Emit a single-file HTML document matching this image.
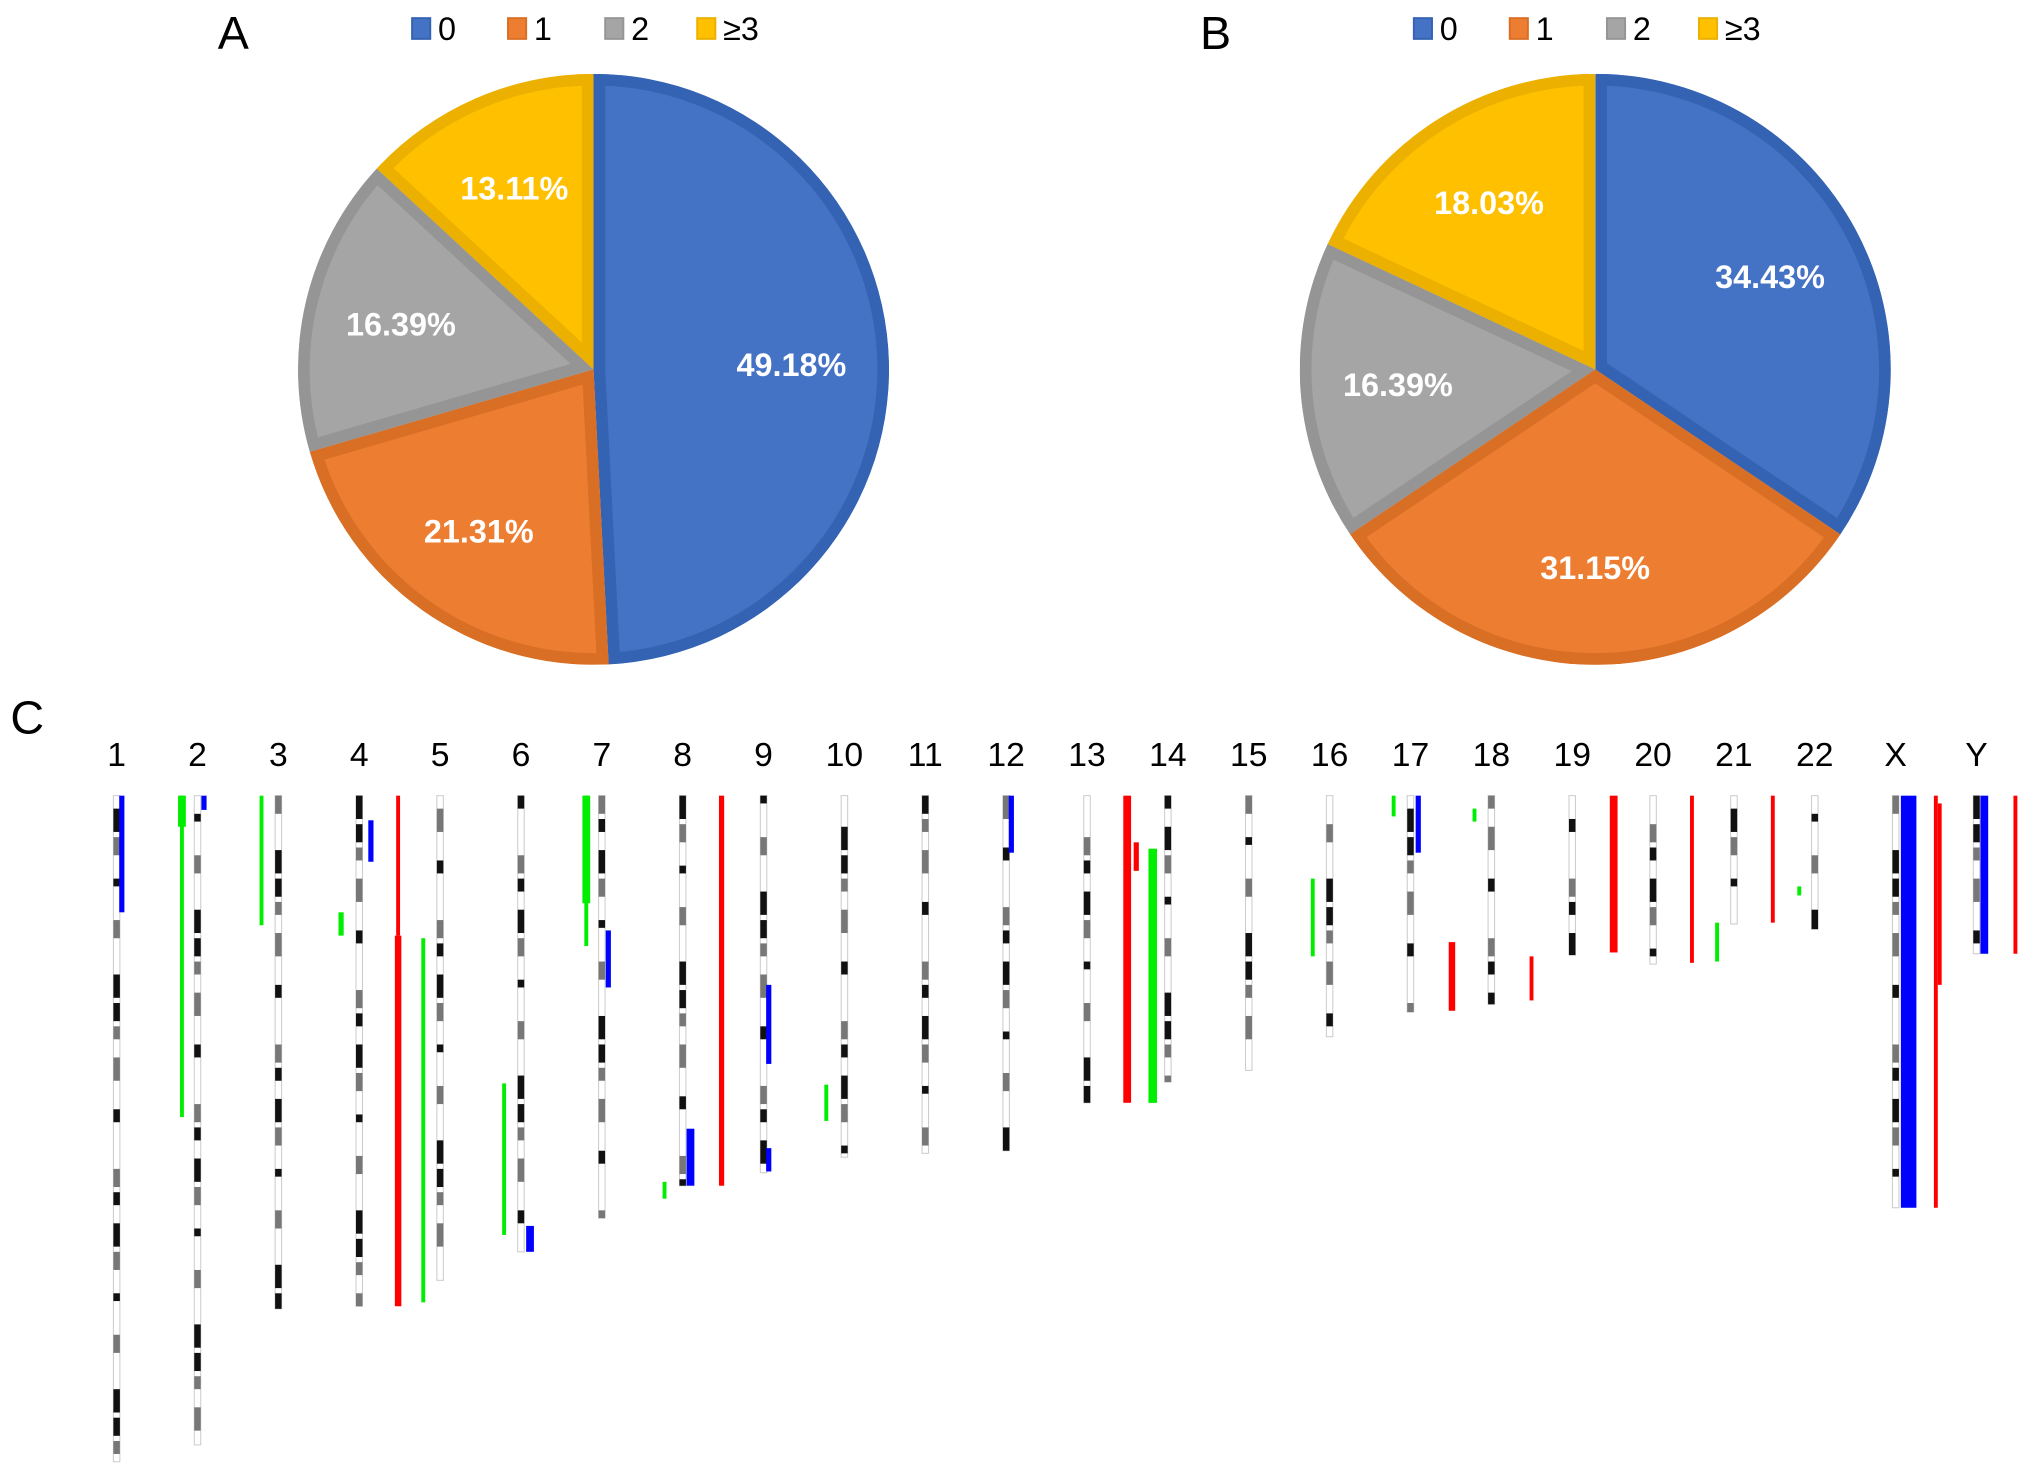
<!DOCTYPE html>
<html><head><meta charset="utf-8"><style>
html,body{margin:0;padding:0;background:#fff}
svg{display:block}
text{font-family:"Liberation Sans",sans-serif}
</style></head><body>
<svg id="fig" width="2032" height="1476" viewBox="0 0 1568 1139" preserveAspectRatio="none" xmlns="http://www.w3.org/2000/svg">
<defs id="defs"></defs>
<rect width="1568" height="1139" fill="#fff"/>
<text x="168" y="38" font-size="36">A</text>
<text x="926" y="38" font-size="36">B</text>
<text x="8" y="566" font-size="36">C</text>
<g id="pies"></g>
<g id="chroms"></g>
</svg>
<script>
const categories = ["0","1","2","≥3"];
const pieAValues = [49.18, 21.31, 16.39, 13.11];
const pieBValues = [34.43, 31.15, 16.39, 18.03];
const fills = ["#4472c4","#ed7d31","#a5a5a5","#ffc000"];
const edges = ["#3563b3","#d96f25","#959595","#ebb000"];

const chromLabels = ["1","2","3","4","5","6","7","8","9","10","11","12","13","14","15","16","17","18","19","20","21","22","X","Y"];
const chromLengths = [514,501,396,394,374,352,326,301,291,279,276,274,237,221,212,186,167,161,123,130,99,103,318,122];
// segments: [chromIndex, xOffset, start, end, width, color]
const segChrom = [0,1,1,1,2,3,3,3,3,4,5,5,6,6,6,7,7,7,8,8,9,11,12,12,12,13,15,16,16,16,17,17,18,19,20,20,21,22,22,22,23,23];
const segOffset= [4,-12,-12,5,-13,-14,9,30,30,-13,-13,7,-12,-12,5,6,-14,30,4,4,-14,4,31,38,51,-12,-13,-13,6,32,-13,31,32,30,-13,30,-12,10,31,34,6,30];
const segStart = [0,0,0,0,0,90,19,0,108,110,222,332,0,0,104,257,298,0,146,272,223,0,0,36,41,41,64,0,0,113,10,124,0,0,98,0,70,0,0,6,0,0];
const segEnd   = [90,24,248,11,100,108,51,108,394,391,339,352,83,116,148,301,311,301,207,290,251,44,237,58,237,237,124,16,44,166,20,158,121,129,128,98,77,318,318,146,122,122];
const segWidth = [4,6,3,4,3,4,4,3,5,3,3,6,6,3,4,6,3,4,4,4,3,4,6,4,6,6,3,3,4,5,3,3,6,3,3,3,3,12,3,3,6,3];
const segColor = ["b","g","g","b","g","g","b","r","r","g","g","b","g","g","b","b","g","r","b","b","g","b","r","r","g","g","g","g","b","r","g","r","r","r","g","r","g","b","r","r","b","r"];

const NS="http://www.w3.org/2000/svg";
function mk(tag,attrs,parent){const e=document.createElementNS(NS,tag);for(const k in attrs)e.setAttribute(k,attrs[k]);parent.appendChild(e);return e;}
const pies=document.getElementById('pies'), defs=document.getElementById('defs');

function drawPie(values,cx,cy,r,legendX,id){
  const total=values.reduce((a,b)=>a+b,0);
  let a0=-Math.PI/2;
  const g=mk('g',{},pies);
  
  
  values.forEach((v,i)=>{
    const a1=a0+v/total*2*Math.PI;
    const x0=cx+r*Math.cos(a0),y0=cy+r*Math.sin(a0),x1=cx+r*Math.cos(a1),y1=cy+r*Math.sin(a1);
    const large=(a1-a0)>Math.PI?1:0;
    const d=`M${cx},${cy} L${x0},${y0} A${r},${r} 0 ${large} 1 ${x1},${y1} Z`;
    const cp=mk('clipPath',{id:'cp'+id+i},defs); mk('path',{d:d},cp);
    const p=mk('path',{d:d,fill:fills[i],stroke:edges[i],'stroke-width':18,'clip-path':`url(#cp${id}${i})`},g);
    
    
    const am=(a0+a1)/2;
    const t=mk('text',{x:cx+0.67*r*Math.cos(am),y:cy+0.67*r*Math.sin(am)+9,'text-anchor':'middle','font-size':25,'font-weight':'bold',fill:'#fff'},g);
    t.textContent=v.toFixed(2)+'%';
    
    
    a0=a1;
  });
  const lg=mk('g',{},pies);
  
  
  const offs=[0,74,149,220];
  categories.forEach((c,i)=>{
    const x=legendX+offs[i];
    const s=mk('rect',{x:x,y:14,width:14,height:16,fill:fills[i],stroke:edges[i],'stroke-width':1.5},lg);
    
    
    const t=mk('text',{x:x+20,y:31,'font-size':25},lg);
    t.textContent=c;
    
    
  });
}
drawPie(pieAValues,458,285,228,318,'a');
drawPie(pieBValues,1231,285,228,1091,'b');

const ch=document.getElementById('chroms');
const top0=614, x0c=90, dx=62.4;
const bandPat="wkgwkwgwwkkgwgwkwwgk";
const colMap={b:"#0000ff",g:"#00ee00",r:"#ff0000"};
chromLabels.forEach((lab,i)=>{
  const x=x0c+i*dx;
  const t=mk('text',{x:x,y:591,'text-anchor':'middle','font-size':26},ch);
  t.textContent=lab;
  
  
  const g=mk('g',{},ch);
  
  
  const L=chromLengths[i];
  mk('rect',{x:x-2.5,y:top0,width:5,height:L,fill:'#fff',stroke:'#ccc','stroke-width':0.8},g);
  let y=top0, k=i*3;
  while(y<top0+L-4){
    const h=6+((k*7)%4)*4, c=bandPat[k%bandPat.length];
    const hh=Math.min(h,top0+L-y);
    if(c!=='w') mk('rect',{x:x-2.5,y:y,width:5,height:hh,fill:c==='k'?'#111':'#777'},g);
    y+=hh+4; k++;
  }
});
for(let j=0;j<segChrom.length;j++){
  const x=x0c+segChrom[j]*dx+segOffset[j];
  const r=mk('rect',{x:x-segWidth[j]/2,y:top0+segStart[j],width:segWidth[j],height:segEnd[j]-segStart[j],fill:colMap[segColor[j]]},ch);
  
  
}
</script>
</body></html>
